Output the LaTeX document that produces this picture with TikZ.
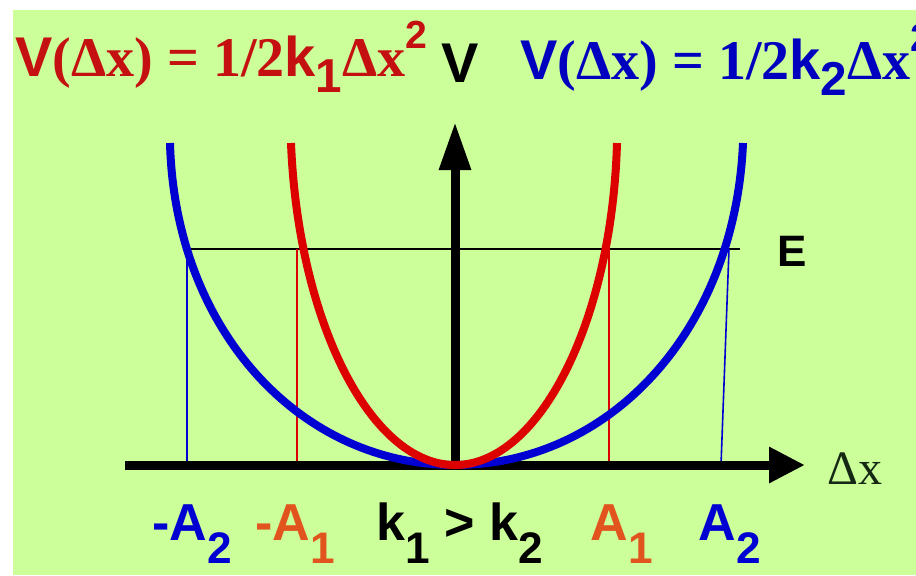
\documentclass[tikz,border=0pt]{standalone}
\usepackage{fontspec}
\setmainfont{Liberation Sans}
\newfontfamily\tmsfont{Liberation Serif}
\usetikzlibrary{arrows.meta}
\definecolor{bgclr}{RGB}{204,255,153}
\definecolor{stiffclr}{RGB}{220,0,0}
\definecolor{softclr}{RGB}{0,0,210}
\definecolor{redtxt}{RGB}{196,16,16}
\definecolor{bluetxt}{RGB}{0,0,190}
\definecolor{ampclr}{RGB}{226,84,30}
\definecolor{dxclr}{RGB}{20,40,20}
\newcommand{\lowsub}[2][0.3em]{\raisebox{-#1}{\scalebox{0.85}{#2}}}
\newcommand{\highsup}[1]{\raisebox{0.5em}{\scalebox{0.7}{#1}}}
\newcommand{\potl}[1]{V{\tmsfont(Δx) = 1/2}k\lowsub{#1}{\tmsfont Δx}\highsup{2}}
\tikzset{
    curve/.style={line width=4pt},
    axis/.style={line width=4.5pt},
    drop/.style={line width=0.8pt},
    lbl/.style={font=\fontsize{28}{32}\selectfont\bfseries,inner sep=0pt},
    amp/.style={font=\fontsize{26}{30}\selectfont\bfseries,inner sep=0pt},
}

\begin{document}
\begin{tikzpicture}[x=0.5pt,y=-0.5pt]
\useasboundingbox (0,0) rectangle (916,575);
\fill[bgclr] (13,10) rectangle (916,575);
% axes and energy level
\coordinate (O) at (455,465);
\coordinate (xleft) at (125,465);
\coordinate (xtip) at (805,465);
\coordinate (ytip) at (455,122);
\coordinate (eleft) at (187,249);
\coordinate (eright) at (740,249);
\draw[line width=1pt] (eleft) -- (eright);
% turning points
\coordinate (mAb) at (187,249);
\coordinate (mAa) at (297,249);
\coordinate (pAa) at (609,249);
\coordinate (pAb) at (729,249);
\draw[drop,softclr] (mAb) -- (187,465);
\draw[drop,stiffclr] (mAa) -- (297,465);
\draw[drop,stiffclr] (pAa) -- (609,465);
\draw[drop,softclr] (pAb) -- (721,465);
\draw[axis,-{Triangle[length=18pt,width=17pt]}] (xleft) -- (xtip);
\draw[axis,-{Triangle[length=24pt,width=15pt]}] (O) -- (ytip);
% potentials
\draw[curve,softclr] (170,143) .. controls (175,330) and (300,465) .. (O)
      .. controls (610,465) and (735,330) .. (743,143);
\draw[curve,stiffclr] (291,143) .. controls (298,320) and (370,465) .. (O)
      .. controls (540,465) and (612,320) .. (617,143);
% labels
\node[lbl,text=redtxt,anchor=base west] (redlaw) at (15,76) {\potl{1}};
\node[lbl,anchor=base] (vlbl) at (460,82) {V};
\node[lbl,text=bluetxt,anchor=base west] (bluelaw) at (520,79) {\potl{2}};
\node[font=\fontsize{22}{26}\selectfont\bfseries,inner sep=0pt,anchor=base west] (elbl) at (777,266) {E};
\node[font=\fontsize{24}{28}\selectfont\tmsfont,text=dxclr,anchor=base,inner sep=0pt] (dxlbl) at (855,484) {Δx};
\node[amp,text=softclr,anchor=base] (mAblbl) at (192,540) {-A\lowsub[0.45em]{2}};
\node[amp,text=ampclr,anchor=base] (mAalbl) at (295,540) {-A\lowsub[0.45em]{1}};
\node[amp,anchor=base] (klbl) at (460,540) {k\lowsub[0.45em]{1} > k\lowsub[0.45em]{2}};
\node[amp,text=ampclr,anchor=base] (pAalbl) at (622,540) {A\lowsub[0.45em]{1}};
\node[amp,text=softclr,anchor=base] (pAblbl) at (730,540) {A\lowsub[0.45em]{2}};
\end{tikzpicture}
\end{document}
